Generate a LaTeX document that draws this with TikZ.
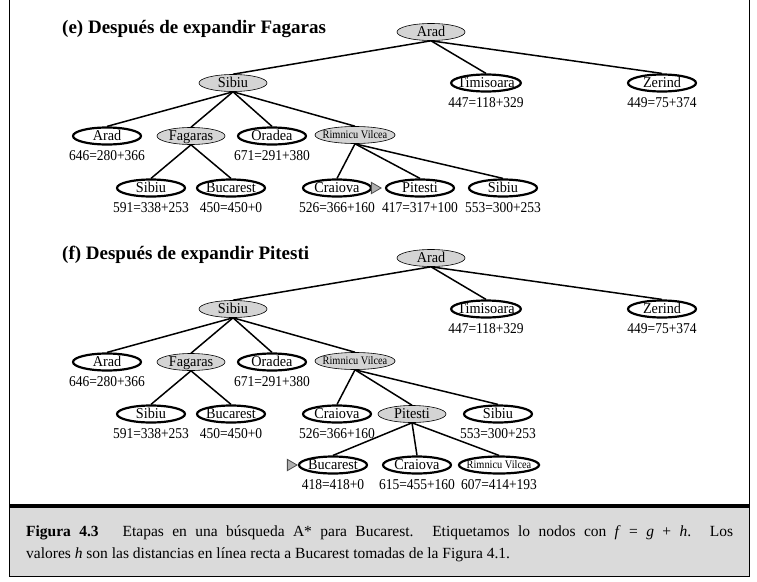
\documentclass[tikz,border=0pt]{standalone}
\usepackage{fontspec}
\setmainfont{Liberation Serif}
\newfontfamily\narrowfont[FakeStretch=0.9]{Liberation Serif}
\newfontfamily\nodefont[FakeStretch=0.95]{Liberation Serif}
\usetikzlibrary{shapes.geometric}
\usetikzlibrary{positioning}
\definecolor{NodeGray}{RGB}{212,212,212}
\definecolor{CapGray}{RGB}{218,218,218}
\definecolor{MarkGray}{RGB}{175,175,175}

\begin{document}
\begin{tikzpicture}[x=1pt,y=-1pt]
    \tikzset{ opn/.style ={draw=black, ellipse, line width=2.2pt, fill=white, minimum width=68pt, minimum height=17pt, inner xsep=-4pt, inner ysep=0pt, text height=10.5pt, text depth=1.5pt, font=\nodefont\fontsize{15}{15}\selectfont} }
    \tikzset{ expd/.style={opn, line width=0.6pt, fill=NodeGray} }
    \tikzset{ rv/.style  ={text height=9.5pt, text depth=2.5pt, font=\narrowfont\fontsize{11.5}{11.5}\selectfont} }
    \tikzset{ fv/.style  ={inner sep=0pt, font=\narrowfont\fontsize{15}{15}\selectfont} }
    \tikzset{ edg/.style ={draw=black, line width=1.5pt} }
    \tikzset{ mrk/.style ={regular polygon, regular polygon sides=3, shape border rotate=-90, draw=black!70, fill=MarkGray, line width=0.8pt, minimum size=13pt, inner sep=0pt} }
    \tikzset{ ttl/.style ={anchor=base west, inner sep=0pt, font=\fontsize{19}{19}\selectfont\bfseries} }
    \tikzset{ captxt/.style ={anchor=north west, inner sep=0pt, text width=707pt, align=justify, font=\fontsize{15.5}{22}\selectfont} }

    \useasboundingbox (0,0) rectangle (757,581);

    % frame and caption box
    \fill[CapGray] (9,506) rectangle (749,576);
    \draw[line width=1pt] (9,0) -- (9,576) -- (749,576) -- (749,0);
    \draw[line width=4pt] (9,506) -- (749,506);

    % (e)
    \node[ttl] (e_ttl) at (62,33) {(e) Después de expandir Fagaras};

    \node[expd    ] (e_ar)  at (431, 32) {Arad};
    \node[expd    ] (e_sb)  at (233, 83) {Sibiu};
    \node[opn     ] (e_tm)  at (486, 83) {Timisoara};
    \node[opn     ] (e_zr)  at (662, 83) {Zerind};
    \node[opn     ] (e_ar2) at (107,136) {Arad};
    \node[expd    ] (e_fg)  at (191,136) {Fagaras};
    \node[opn     ] (e_or)  at (272,136) {Oradea};
    \node[expd, rv] (e_rv)  at (355,135) {Rimnicu Vilcea};
    \node[opn     ] (e_sb3) at (151,188) {Sibiu};
    \node[opn     ] (e_bu)  at (231,188) {Bucarest};
    \node[opn     ] (e_cr)  at (337,188) {Craiova};
    \node[opn     ] (e_pt)  at (420,188) {Pitesti};
    \node[opn     ] (e_sb4) at (503,188) {Sibiu};
    \node[mrk, left=3pt of e_pt] (e_mk) {};

    \node[fv, below=5pt of e_tm ] (e_tm_f)  {447=118+329};
    \node[fv, below=5pt of e_zr ] (e_zr_f)  {449=75+374};
    \node[fv, below=5pt of e_ar2] (e_ar2_f) {646=280+366};
    \node[fv, below=5pt of e_or ] (e_or_f)  {671=291+380};
    \node[fv, below=5pt of e_sb3] (e_sb3_f) {591=338+253};
    \node[fv, below=5pt of e_bu ] (e_bu_f)  {450=450+0};
    \node[fv, below=5pt of e_cr ] (e_cr_f)  {526=366+160};
    \node[fv, below=5pt of e_pt ] (e_pt_f)  {417=317+100};
    \node[fv, below=5pt of e_sb4] (e_sb4_f) {553=300+253};

    \draw[edg] (e_ar.south) -- (e_sb.north);
    \draw[edg] (e_ar.south) -- (e_tm.north);
    \draw[edg] (e_ar.south) -- (e_zr.north);
    \draw[edg] (e_sb.south) -- (e_ar2.north);
    \draw[edg] (e_sb.south) -- (e_fg.north);
    \draw[edg] (e_sb.south) -- (e_or.north);
    \draw[edg] (e_sb.south) -- (e_rv.north);
    \draw[edg] (e_fg.south) -- (e_sb3.north);
    \draw[edg] (e_fg.south) -- (e_bu.north);
    \draw[edg] (e_rv.south) -- (e_cr.north);
    \draw[edg] (e_rv.south) -- (e_pt.north);
    \draw[edg] (e_rv.south) -- (e_sb4.north);

    % (f)
    \node[ttl] (f_ttl) at (62,259) {(f) Después de expandir Pitesti};

    \node[expd    ] (f_ar)  at (431,258) {Arad};
    \node[expd    ] (f_sb)  at (233,309) {Sibiu};
    \node[opn     ] (f_tm)  at (486,309) {Timisoara};
    \node[opn     ] (f_zr)  at (662,309) {Zerind};
    \node[opn     ] (f_ar2) at (107,362) {Arad};
    \node[expd    ] (f_fg)  at (191,362) {Fagaras};
    \node[opn     ] (f_or)  at (272,362) {Oradea};
    \node[expd, rv] (f_rv)  at (355,361) {Rimnicu Vilcea};
    \node[opn     ] (f_sb3) at (151,414) {Sibiu};
    \node[opn     ] (f_bu)  at (231,414) {Bucarest};
    \node[opn     ] (f_cr)  at (337,414) {Craiova};
    \node[expd    ] (f_pt)  at (412,414) {Pitesti};
    \node[opn     ] (f_sb4) at (498,414) {Sibiu};
    \node[opn     ] (f_bu4) at (333,465) {Bucarest};
    \node[opn     ] (f_cr4) at (417,465) {Craiova};
    \node[opn, rv ] (f_rv4) at (499,465) {Rimnicu Vilcea};
    \node[mrk, left=0pt of f_bu4] (f_mk) {};

    \node[fv, below=5pt of f_tm ] (f_tm_f)  {447=118+329};
    \node[fv, below=5pt of f_zr ] (f_zr_f)  {449=75+374};
    \node[fv, below=5pt of f_ar2] (f_ar2_f) {646=280+366};
    \node[fv, below=5pt of f_or ] (f_or_f)  {671=291+380};
    \node[fv, below=5pt of f_sb3] (f_sb3_f) {591=338+253};
    \node[fv, below=5pt of f_bu ] (f_bu_f)  {450=450+0};
    \node[fv, below=5pt of f_cr ] (f_cr_f)  {526=366+160};
    \node[fv, below=5pt of f_sb4] (f_sb4_f) {553=300+253};
    \node[fv, below=5pt of f_bu4] (f_bu4_f) {418=418+0};
    \node[fv, below=5pt of f_cr4] (f_cr4_f) {615=455+160};
    \node[fv, below=5pt of f_rv4] (f_rv4_f) {607=414+193};

    \draw[edg] (f_ar.south) -- (f_sb.north);
    \draw[edg] (f_ar.south) -- (f_tm.north);
    \draw[edg] (f_ar.south) -- (f_zr.north);
    \draw[edg] (f_sb.south) -- (f_ar2.north);
    \draw[edg] (f_sb.south) -- (f_fg.north);
    \draw[edg] (f_sb.south) -- (f_or.north);
    \draw[edg] (f_sb.south) -- (f_rv.north);
    \draw[edg] (f_fg.south) -- (f_sb3.north);
    \draw[edg] (f_fg.south) -- (f_bu.north);
    \draw[edg] (f_rv.south) -- (f_cr.north);
    \draw[edg] (f_rv.south) -- (f_pt.north);
    \draw[edg] (f_rv.south) -- (f_sb4.north);
    \draw[edg] (f_pt.south) -- (f_bu4.north);
    \draw[edg] (f_pt.south) -- (f_cr4.north);
    \draw[edg] (f_pt.south) -- (f_rv4.north);

    % caption
    \node[captxt] (cap) at (26,525) {\textbf{Figura 4.3}\quad\ Etapas en una búsqueda A* para Bucarest. Etiquetamos lo nodos con \textit{f}~=~\textit{g}~+~\textit{h}. Los\linebreak valores \textit{h} son las distancias en línea recta a Bucarest tomadas de la Figura 4.1.};
  \end{tikzpicture}
\end{document}
